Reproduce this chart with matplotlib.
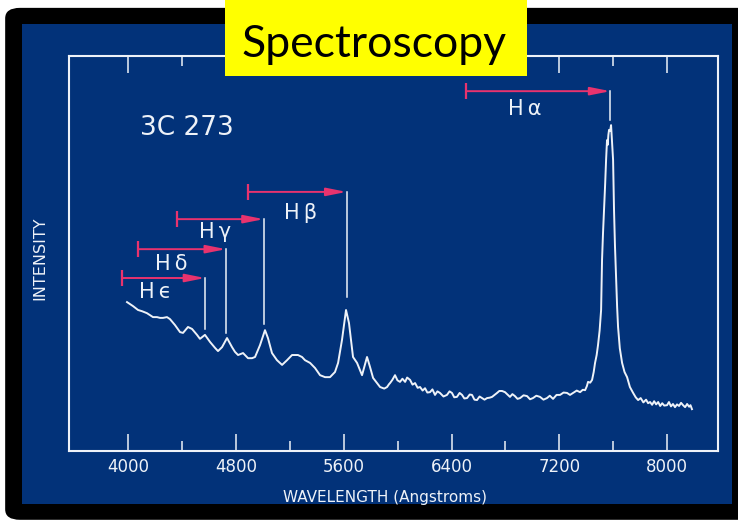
import matplotlib

matplotlib.use("Agg")

import matplotlib.pyplot as plt
from matplotlib.patches import FancyBboxPatch, Rectangle

# Spectrum of 3C 273: wavelength [Angstrom] vs. relative intensity
wavelength = [
    3989, 4033, 4071, 4100, 4137, 4182, 4212, 4234, 4256, 4286, 4308, 4345,
    4383, 4405, 4442, 4472, 4509, 4531, 4568, 4606, 4643, 4665, 4695, 4732,
    4769, 4791, 4814, 4851, 4888, 4918, 4940, 4977, 5014, 5036, 5066, 5103,
    5141, 5178, 5215, 5259, 5289, 5311, 5349, 5386, 5423, 5460, 5497, 5534,
    5557, 5586, 5616, 5638, 5668, 5698, 5735, 5772, 5794, 5817, 5869, 5900,
    5921, 5935, 5943, 5960, 5980, 5998, 6017, 6035, 6055, 6070, 6092, 6110,
    6129, 6148, 6166, 6185, 6203, 6220, 6240, 6258, 6277, 6295, 6314, 6340,
    6366, 6385, 6403, 6420, 6440, 6460, 6478, 6495, 6515, 6535, 6552, 6570,
    6589, 6608, 6627, 6645, 6664, 6683, 6701, 6720, 6738, 6755, 6775, 6797,
    6815, 6834, 6852, 6871, 6890, 6909, 6935, 6961, 6983, 7005, 7030, 7057,
    7083, 7109, 7130, 7154, 7180, 7206, 7232, 7258, 7280, 7303, 7330, 7355,
    7375, 7392, 7405, 7414, 7430, 7444, 7456, 7466, 7478, 7488, 7500, 7511,
    7518, 7525, 7533, 7541, 7548, 7555, 7560, 7565, 7570, 7578, 7585, 7593,
    7600, 7607, 7614, 7622, 7630, 7637, 7650, 7667, 7685, 7704, 7725, 7749,
    7768, 7786, 7805, 7825, 7845, 7860, 7875, 7890, 7905, 7920, 7935, 7950,
    7965, 7980, 8001, 8015, 8030, 8045, 8060, 8075, 8090, 8105, 8120, 8135,
    8150, 8165, 8175, 8186,
]
intensity = [
    37.7, 36.7, 35.7, 35.4, 34.9, 33.9, 33.9, 33.7, 33.7, 33.9, 33.4, 31.9,
    30.1, 29.9, 31.4, 30.9, 29.4, 28.4, 29.4, 27.6, 26.1, 25.3, 26.3, 28.6,
    26.3, 25.1, 24.3, 24.8, 23.5, 23.5, 23.8, 26.8, 30.6, 28.6, 24.8, 23.0,
    21.8, 23.0, 24.3, 24.3, 23.8, 23.0, 22.3, 21.0, 19.2, 18.7, 18.7, 20.0,
    22.3, 28.1, 35.7, 32.4, 23.8, 22.3, 19.2, 23.8, 21.3, 18.5, 16.2, 15.8,
    16.2, 16.9, 17.2, 18.0, 19.2, 17.9, 17.5, 18.3, 17.5, 18.6, 18.0, 16.8,
    17.2, 16.0, 16.2, 15.3, 15.9, 14.8, 14.9, 15.6, 14.2, 15.1, 14.7, 13.8,
    14.2, 15.1, 14.7, 13.6, 13.7, 14.7, 14.2, 13.3, 13.4, 14.3, 14.2, 13.0,
    12.9, 13.8, 13.4, 13.0, 13.4, 13.5, 13.7, 14.2, 14.7, 15.2, 15.2, 14.9,
    14.3, 13.7, 14.4, 13.9, 13.2, 13.4, 14.1, 13.9, 13.1, 13.4, 14.0, 13.7,
    13.0, 13.4, 14.0, 13.2, 14.2, 14.2, 14.8, 14.7, 14.2, 14.7, 15.3, 14.9,
    15.5, 15.4, 16.4, 17.5, 17.3, 18.0, 20.0, 22.3, 24.3, 26.8, 30.5, 35.7,
    48.4, 55.0, 61.0, 67.5, 73.7, 78.7, 77.5, 80.0, 81.3, 81.0, 82.5, 78.0,
    73.7, 61.0, 52.0, 44.1, 36.5, 31.4, 26.0, 22.3, 20.0, 18.7, 16.2, 14.7,
    13.6, 12.9, 13.4, 12.3, 13.0, 12.1, 12.4, 11.7, 12.6, 11.8, 12.4, 11.4,
    12.1, 11.5, 11.6, 12.4, 11.3, 11.9, 11.1, 11.8, 11.4, 12.2, 11.6, 11.1,
    11.9, 11.2, 11.6, 10.6,
]

# Hydrogen Balmer lines (redshifted), with marker geometry
line_labels = ["H\u2009\u03b1", "H\u2009\u03b2", "H\u2009\u03b3", "H\u2009\u03b4", "H\u2009\u03f5"]
line_wavelength = [7580, 5620, 5005, 4725, 4570]
arrow_start = [6509, 4888, 4360, 4070, 3952]
arrow_level = [91.1, 65.6, 58.7, 51.1, 43.8]
drop_level = [83.8, 39.0, 32.2, 29.9, 30.9]
label_x = [6945, 5275, 4643, 4316, 4197]
label_y = [86.6, 60.3, 55.4, 47.3, 40.3]

major_ticks = [4000, 4800, 5600, 6400, 7200, 8000]
minor_ticks = [4400, 5200, 6000, 6800, 7600]

NAVY = "#023279"
INK = "#eef2f8"
RED = "#e8336e"


def _frame(fig: plt.Figure) -> None:
    # black rounded border with the navy panel inside
    fig.add_artist(FancyBboxPatch(
        (0.007, 0.008), 1.05, 0.977, boxstyle="round,pad=0,rounding_size=0.02",
        transform=fig.transFigure, facecolor="black", edgecolor="none", zorder=-20,
    ))
    fig.add_artist(Rectangle(
        (0.030, 0.038), 0.962, 0.917, transform=fig.transFigure,
        facecolor=NAVY, edgecolor="none", zorder=-19,
    ))
    # title banner
    fig.add_artist(Rectangle(
        (0.305, 0.855), 0.409, 0.15, transform=fig.transFigure,
        facecolor="#ffff00", edgecolor="none", zorder=5,
    ))
    fig.text(0.507, 0.891, "Spectroscopy", ha="center", va="baseline",
             fontsize=32, family="Lato", color="black", zorder=6)


def main() -> int:
    fig = plt.figure(figsize=(7.38, 5.24), dpi=100, facecolor="white")
    _frame(fig)

    ax = fig.add_axes([0.0935, 0.1393, 0.8795, 0.7538])
    ax.set_facecolor("none")
    ax.set_xlim(3558, 8380)
    ax.set_ylim(0, 100)

    ax.plot(wavelength, intensity, color=INK, lw=1.4, solid_joinstyle="round")

    for name, lam, x0, yl, yd, tx, ty in zip(
        line_labels, line_wavelength, arrow_start, arrow_level, drop_level, label_x, label_y
    ):
        ax.plot([lam, lam], [yl, yd], color=INK, lw=1.1)
        ax.annotate(
            "", xy=(lam, yl), xytext=(x0, yl),
            arrowprops=dict(arrowstyle="-|>,head_length=0.6,head_width=0.12",
                            color=RED, lw=1.4, shrinkA=0, shrinkB=0, mutation_scale=20),
        )
        ax.plot([x0], [yl], marker="|", markersize=11, mew=1.6, color=RED)
        ax.text(tx, ty, name, ha="center", va="center", fontsize=15, color=INK)

    ax.text(4435, 81.8, "3C 273", ha="center", va="center", fontsize=19, color=INK)

    for side in ax.spines.values():
        side.set_color(INK)
        side.set_linewidth(1.5)

    ax.set_xticks(major_ticks)
    ax.set_xticks(minor_ticks, minor=True)
    ax.tick_params(axis="x", which="both", direction="in", top=True, bottom=True,
                   colors=INK, width=1.1, pad=5, labelsize=12)
    ax.tick_params(axis="x", which="major", length=12.5)
    ax.tick_params(axis="x", which="minor", length=7.5)
    ax.set_yticks([])

    fig.text(0.054, 0.508, "INTENSITY", rotation=90, ha="center", va="center",
             fontsize=11.5, color=INK)
    fig.text(0.522, 0.05, "WAVELENGTH (Angstroms)", ha="center", va="center",
             fontsize=11, color=INK)

    fig.savefig("out.png", dpi=100, facecolor=fig.get_facecolor())
    return 0


if __name__ == "__main__":
    raise SystemExit(main())
